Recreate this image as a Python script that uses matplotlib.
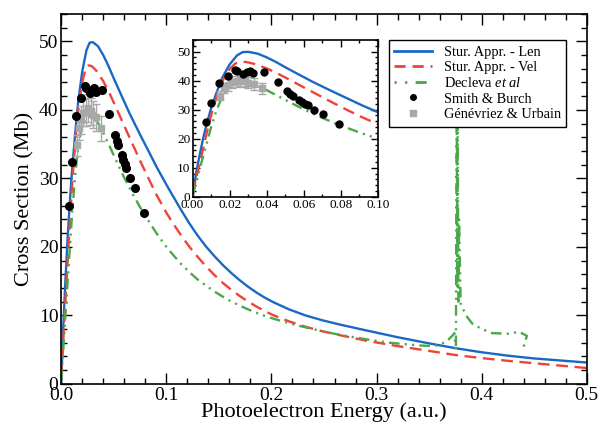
import numpy as np
import matplotlib
matplotlib.use("Agg")
import matplotlib.pyplot as plt
from matplotlib.ticker import MultipleLocator
from matplotlib.lines import Line2D

plt.rcParams['font.family'] = ['Liberation Serif', 'DejaVu Serif']
plt.rcParams['mathtext.fontset'] = 'custom'
plt.rcParams['mathtext.rm'] = 'Liberation Serif'
plt.rcParams['mathtext.it'] = 'Liberation Serif:italic'

# Sturmian approximation - length gauge
len_x = [0, 0.002, 0.004, 0.006, 0.008, 0.010, 0.013, 0.016, 0.020, 0.024, 0.027,
         0.030, 0.035, 0.040, 0.045, 0.050, 0.057, 0.065, 0.075, 0.083, 0.091,
         0.100, 0.106, 0.114, 0.122, 0.130, 0.138, 0.146, 0.154, 0.162, 0.170,
         0.178, 0.186, 0.194, 0.202, 0.217, 0.233, 0.249, 0.265, 0.290, 0.320,
         0.350, 0.375, 0.400, 0.425, 0.450, 0.475, 0.500]
len_y = [0, 8.5, 15, 21, 26, 30.5, 36, 41, 45.6, 48.7, 49.8,
         49.9, 49.3, 48.0, 46.4, 44.6, 42.2, 39.5, 36.4, 34.0, 31.6,
         29.1, 27.5, 25.4, 23.4, 21.6, 20.0, 18.6, 17.3, 16.15, 15.1,
         14.15, 13.3, 12.55, 11.9, 10.85, 9.95, 9.25, 8.65, 7.8, 6.8,
         5.9, 5.2, 4.6, 4.1, 3.7, 3.4, 3.1]

# Sturmian approximation - velocity gauge
vel_x = [0, 0.002, 0.004, 0.006, 0.008, 0.011, 0.014, 0.017, 0.020, 0.023, 0.026,
         0.029, 0.033, 0.040, 0.046, 0.052, 0.059, 0.067, 0.075, 0.083, 0.091,
         0.100, 0.106, 0.114, 0.122, 0.130, 0.138, 0.146, 0.154, 0.162, 0.170,
         0.178, 0.186, 0.194, 0.202, 0.217, 0.233, 0.249, 0.265, 0.290, 0.320,
         0.350, 0.375, 0.400, 0.425, 0.450, 0.475, 0.500]
vel_y = [1, 6.5, 12, 17.5, 23, 30.5, 36.5, 41, 44, 45.9, 46.5,
         46.4, 45.8, 44.2, 42.4, 40.4, 38.0, 35.3, 32.6, 30.0, 27.5,
         25.0, 23.5, 21.7, 20.0, 18.5, 17.1, 15.85, 14.7, 13.7, 12.8,
         12.0, 11.25, 10.6, 10.0, 9.1, 8.3, 7.65, 7.1, 6.3, 5.5,
         4.8, 4.2, 3.75, 3.35, 3.0, 2.65, 2.3]

# Decleva et al
dec_x = [0, 0.002, 0.004, 0.007, 0.010, 0.013, 0.016, 0.019, 0.022, 0.026, 0.030,
         0.035, 0.040, 0.046, 0.052, 0.059, 0.067, 0.075, 0.083, 0.091, 0.100,
         0.106, 0.114, 0.122, 0.130, 0.138, 0.146, 0.154, 0.162, 0.170, 0.178,
         0.186, 0.194, 0.202, 0.224, 0.249, 0.265, 0.290, 0.312, 0.340, 0.355,
         0.366, 0.372, 0.374, 0.3755, 0.3762, 0.3768, 0.3772, 0.3778, 0.3785,
         0.380, 0.385, 0.391, 0.400, 0.410, 0.426, 0.4355, 0.443, 0.4385]
dec_y = [0.5, 5, 10, 17, 24, 30, 34.5, 37, 38.3, 39.0, 39.0,
         38.1, 36.7, 34.7, 32.7, 30.4, 28.0, 25.8, 23.8, 21.9, 20.0,
         18.9, 17.5, 16.3, 15.2, 14.3, 13.45, 12.7, 12.0, 11.4, 10.85,
         10.35, 9.9, 9.5, 8.55, 7.65, 7.15, 6.5, 6.0, 5.6, 5.5,
         6.1, 7.0, 7.4, 4.9, 45, 14, 38, 12, 24,
         11.7, 10.0, 8.8, 8.0, 7.4, 7.3, 7.6, 7.0, 4.7]

# Smith & Burch
sb_x = [0.0072, 0.0101, 0.0145, 0.0192, 0.0230, 0.0239, 0.0273, 0.0294, 0.0312,
        0.0327, 0.0384, 0.0458, 0.0510, 0.0528, 0.0542, 0.0575, 0.0591, 0.0605,
        0.0620, 0.0654, 0.0706, 0.0790]
sb_y = [25.9, 32.4, 39.1, 41.7, 43.5, 43.2, 42.4, 42.9, 43.2,
        42.6, 42.9, 39.4, 36.4, 35.5, 34.8, 33.4, 32.7, 32.1,
        31.5, 30.0, 28.6, 25.0]

# Genevriez & Urbain
gu_x = [0.0150, 0.0172, 0.0190, 0.0212, 0.0237, 0.0258, 0.0280, 0.0300, 0.0330, 0.0375]
gu_y = [34.8, 37.4, 38.5, 39.6, 39.7, 40.3, 39.8, 39.3, 38.9, 37.3]
gu_err = [1.5, 1.8, 2.0, 2.0, 2.0, 2.0, 2.0, 2.0, 2.0, 1.8]

labels = ['Stur. Appr. - Len', 'Stur. Appr. - Vel', r'Decleva $\mathit{et\ al}$',
          'Smith & Burch', 'Génévriez & Urbain']

blue = '#1b67c6'
red = '#f04238'
green = '#4aa84a'
grey = '#a8a8a8'
dash = (0, (5, 2.8))
dashdotdot = (0, (4.5, 2.2, 0.9, 2.2, 0.9, 2.2))


def draw(ax, ms, lw):
    ax.plot(len_x, len_y, color=blue, lw=lw)
    ax.plot(vel_x, vel_y, color=red, lw=lw, ls=dash)
    ax.plot(dec_x, dec_y, color=green, lw=lw, ls=dashdotdot)
    ax.errorbar(gu_x, gu_y, yerr=gu_err, fmt='s', color=grey, ms=ms * 0.8,
                capsize=3, elinewidth=1, zorder=3)
    ax.plot(sb_x, sb_y, 'o', color='black', ms=ms, zorder=4)


def style(ax, major_len, minor_len):
    ax.tick_params(which='both', direction='in', top=True, right=True)
    ax.tick_params(which='major', length=major_len, width=1)
    ax.tick_params(which='minor', length=minor_len, width=1)
    for s in ax.spines.values():
        s.set_linewidth(1.2)


fig = plt.figure(figsize=(6, 4.25), dpi=100)
ax = fig.add_axes([0.102, 0.097, 0.876, 0.870])
draw(ax, 5.5, 1.7)
ax.set_xlim(0, 0.5)
ax.set_ylim(0, 54)
ax.xaxis.set_major_locator(MultipleLocator(0.1))
ax.xaxis.set_minor_locator(MultipleLocator(0.02))
ax.yaxis.set_major_locator(MultipleLocator(10))
ax.yaxis.set_minor_locator(MultipleLocator(2))
ax.xaxis.set_major_formatter(plt.FormatStrFormatter('%.1f'))
style(ax, 8, 4)
ax.tick_params(labelsize=14, pad=2)
ax.set_xlabel('Photoelectron Energy (a.u.)', fontsize=16, labelpad=-1)
ax.set_ylabel('Cross Section (Mb)', fontsize=16, labelpad=3)

handles = [
    Line2D([], [], color=blue, lw=2),
    Line2D([], [], color=red, lw=2, ls=(0, (4, 2.5))),
    Line2D([], [], color=green, lw=2, ls=(0, (0.8, 3, 0.8, 3, 4, 3))),
    Line2D([], [], ls='none', marker='o', color='black', ms=4),
    Line2D([], [], ls='none', marker='s', color=grey, ms=4),
]
leg = ax.legend(handles, labels, loc='upper left', bbox_to_anchor=(0.623, 0.93),
                fontsize=10.4, frameon=True, fancybox=False, edgecolor='black',
                framealpha=1, handlelength=2.6, borderpad=0.4, labelspacing=0.15,
                handletextpad=0.8, borderaxespad=0)
leg.get_frame().set_linewidth(1)
leg.set_zorder(10)

ins = fig.add_axes([0.321, 0.537, 0.309, 0.369])
draw(ins, 5, 1.7)
ins.set_xlim(0, 0.1)
ins.set_ylim(0, 54)
ins.xaxis.set_major_locator(MultipleLocator(0.02))
ins.xaxis.set_minor_locator(MultipleLocator(0.01))
ins.yaxis.set_major_locator(MultipleLocator(10))
ins.yaxis.set_minor_locator(MultipleLocator(2))
ins.xaxis.set_major_formatter(plt.FormatStrFormatter('%.2f'))
style(ins, 5, 2.5)
ins.tick_params(labelsize=9.5, pad=1.5)

fig.savefig('out.png', dpi=100)
